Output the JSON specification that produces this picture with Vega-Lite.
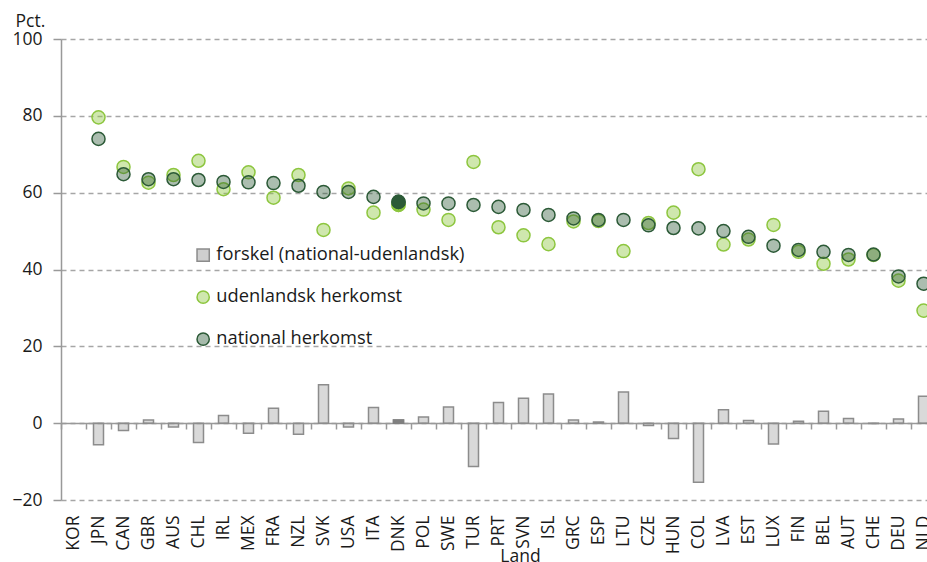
{
  "$schema": "https://vega.github.io/schema/vega-lite/v6.json",
  "width": 866,
  "height": 461,
  "autosize": {"type": "none"},
  "padding": {"left": 61, "top": 39, "right": 0, "bottom": 62},
  "config": {"font": "Open Sans", "view": {"stroke": null}},
  "data": {"values": [
    {"land": "KOR", "national": null, "udenlandsk": null, "forskel": null},
    {"land": "JPN", "national": 74.0, "udenlandsk": 79.6, "forskel": -5.6},
    {"land": "CAN", "national": 64.8, "udenlandsk": 66.7, "forskel": -1.9},
    {"land": "GBR", "national": 63.5, "udenlandsk": 62.6, "forskel": 0.8},
    {"land": "AUS", "national": 63.5, "udenlandsk": 64.6, "forskel": -1.0},
    {"land": "CHL", "national": 63.3, "udenlandsk": 68.3, "forskel": -5.0},
    {"land": "IRL", "national": 62.8, "udenlandsk": 60.9, "forskel": 2.0},
    {"land": "MEX", "national": 62.7, "udenlandsk": 65.3, "forskel": -2.6},
    {"land": "FRA", "national": 62.5, "udenlandsk": 58.7, "forskel": 3.9},
    {"land": "NZL", "national": 61.8, "udenlandsk": 64.6, "forskel": -2.9},
    {"land": "SVK", "national": 60.2, "udenlandsk": 50.3, "forskel": 10.0},
    {"land": "USA", "national": 60.2, "udenlandsk": 61.1, "forskel": -1.0},
    {"land": "ITA", "national": 58.9, "udenlandsk": 54.8, "forskel": 4.1},
    {"land": "DNK", "national": 57.6, "udenlandsk": 56.8, "forskel": 0.8},
    {"land": "POL", "national": 57.2, "udenlandsk": 55.6, "forskel": 1.6},
    {"land": "SWE", "national": 57.2, "udenlandsk": 52.9, "forskel": 4.2},
    {"land": "TUR", "national": 56.8, "udenlandsk": 68.0, "forskel": -11.3},
    {"land": "PRT", "national": 56.3, "udenlandsk": 51.0, "forskel": 5.4},
    {"land": "SVN", "national": 55.5, "udenlandsk": 48.9, "forskel": 6.5},
    {"land": "ISL", "national": 54.2, "udenlandsk": 46.6, "forskel": 7.6},
    {"land": "GRC", "national": 53.3, "udenlandsk": 52.5, "forskel": 0.8},
    {"land": "ESP", "national": 52.9, "udenlandsk": 52.6, "forskel": 0.3},
    {"land": "LTU", "national": 52.9, "udenlandsk": 44.8, "forskel": 8.1},
    {"land": "CZE", "national": 51.5, "udenlandsk": 52.1, "forskel": -0.6},
    {"land": "HUN", "national": 50.8, "udenlandsk": 54.8, "forskel": -4.0},
    {"land": "COL", "national": 50.7, "udenlandsk": 66.1, "forskel": -15.4},
    {"land": "LVA", "national": 50.0, "udenlandsk": 46.5, "forskel": 3.5},
    {"land": "EST", "national": 48.5, "udenlandsk": 47.8, "forskel": 0.7},
    {"land": "LUX", "national": 46.2, "udenlandsk": 51.6, "forskel": -5.4},
    {"land": "FIN", "national": 45.1, "udenlandsk": 44.6, "forskel": 0.5},
    {"land": "BEL", "national": 44.6, "udenlandsk": 41.5, "forskel": 3.1},
    {"land": "AUT", "national": 43.8, "udenlandsk": 42.6, "forskel": 1.2},
    {"land": "CHE", "national": 43.9, "udenlandsk": 43.8, "forskel": -0.1},
    {"land": "DEU", "national": 38.2, "udenlandsk": 37.1, "forskel": 1.1},
    {"land": "NLD", "national": 36.3, "udenlandsk": 29.3, "forskel": 7.0}
  ]},
  "transform": [{"fold": ["forskel", "udenlandsk", "national"], "as": ["key", "value"]}],
  "encoding": {
    "x": {
      "field": "land", "type": "nominal", "sort": null,
      "scale": {
        "domain": ["KOR","JPN","CAN","GBR","AUS","CHL","IRL","MEX","FRA","NZL","SVK","USA","ITA","DNK","POL","SWE","TUR","PRT","SVN","ISL","GRC","ESP","LTU","CZE","HUN","COL","LVA","EST","LUX","FIN","BEL","AUT","CHE","DEU","NLD"],
        "range": [0, 875], "paddingInner": 0, "paddingOuter": 0
      },
      "axis": {
        "orient": "bottom", "offset": -77, "title": "Land", "grid": false,
        "domainColor": "#999999", "domainWidth": 1.5,
        "tickColor": "#999999", "tickWidth": 1.5, "tickSize": 6, "tickBand": "extent",
        "labelAngle": -90, "labelAlign": "right", "labelBaseline": "middle",
        "labelPadding": 86, "labelFontSize": 17.5, "labelColor": "#1a1a1a",
        "titleFontSize": 17.5, "titleFontWeight": "normal", "titleColor": "#1a1a1a",
        "titleX": 459, "titleY": 138, "titleAlign": "center", "titleBaseline": "alphabetic"
      }
    },
    "y": {
      "field": "value", "type": "quantitative",
      "scale": {"domain": [-20, 100], "nice": false, "zero": false},
      "axis": {
        "title": "Pct.", "titleAngle": 0, "titleX": -46, "titleY": -13,
        "titleAlign": "left", "titleBaseline": "alphabetic",
        "titleFontSize": 17.5, "titleFontWeight": "normal", "titleColor": "#1a1a1a",
        "values": [-20, 0, 20, 40, 60, 80, 100],
        "grid": true, "gridDash": [5, 4], "gridColor": "#a6a6a6", "gridWidth": 1.3,
        "domainColor": "#999999", "domainWidth": 1.5,
        "tickColor": "#999999", "tickWidth": 1.5, "tickSize": 8,
        "labelPadding": 11, "labelFontSize": 17.5, "labelColor": "#1a1a1a"
      }
    },
    "fill": {
      "field": "key", "type": "nominal",
      "scale": {"domain": ["forskel", "udenlandsk", "national"], "range": ["#8c8c8c", "#8dc63f", "#2c5a37"]},
      "legend": {
        "title": null, "orient": "none", "legendX": 133, "legendY": 207,
        "labelFontSize": 18.3, "labelColor": "#1a1a1a", "labelLimit": 0,
        "symbolSize": 150, "rowPadding": 22, "symbolOpacity": 0.45,
        "labelOffset": 4, "symbolStrokeWidth": 1.5,
        "labelExpr": "datum.label === 'forskel' ? 'forskel (national-udenlandsk)' : datum.label + ' herkomst'",
        "encode": {"symbols": {"update": {"opacity": {"value": 1}, "fillOpacity": {"value": 0.42}, "strokeWidth": {"value": 1.5}}}}
      }
    },
    "stroke": {
      "field": "key", "type": "nominal",
      "scale": {"domain": ["forskel", "udenlandsk", "national"], "range": ["#8c8c8c", "#8dc63f", "#2c5a37"]}
    }
  },
  "layer": [
    {
      "transform": [{"filter": "datum.key === 'forskel'"}],
      "mark": {"type": "bar", "size": 10, "strokeWidth": 1.5, "fillOpacity": 0.33}
    },
    {
      "transform": [{"filter": "datum.key === 'forskel' && datum.land === 'DNK'"}],
      "mark": {"type": "bar", "size": 10, "strokeWidth": 1.5},
      "encoding": {"fill": {"value": "#808080"}, "stroke": {"value": "#808080"}}
    },
    {
      "transform": [{"filter": "datum.key === 'udenlandsk'"}],
      "mark": {"type": "point", "filled": true, "size": 170, "strokeWidth": 1.5, "fillOpacity": 0.42},
      "encoding": {
        "shape": {"field": "key", "type": "nominal", "scale": {"domain": ["forskel", "udenlandsk", "national"], "range": ["square", "circle", "circle"]}}
      }
    },
    {
      "transform": [{"filter": "datum.key === 'udenlandsk' && datum.land === 'DNK'"}],
      "mark": {"type": "point", "filled": true, "size": 170, "strokeWidth": 1.5, "fillOpacity": 1, "shape": "circle"},
      "encoding": {"fill": {"value": "#8dc63f"}, "stroke": {"value": "#8dc63f"}}
    },
    {
      "transform": [{"filter": "datum.key === 'national'"}],
      "mark": {"type": "point", "filled": true, "size": 170, "strokeWidth": 1.5, "fillOpacity": 0.4},
      "encoding": {
        "shape": {"field": "key", "type": "nominal"}
      }
    },
    {
      "transform": [{"filter": "datum.key === 'national' && datum.land === 'DNK'"}],
      "mark": {"type": "point", "filled": true, "size": 170, "strokeWidth": 1.5, "fillOpacity": 1, "shape": "circle"},
      "encoding": {"fill": {"value": "#2c5a37"}, "stroke": {"value": "#2c5a37"}}
    }
  ]
}
